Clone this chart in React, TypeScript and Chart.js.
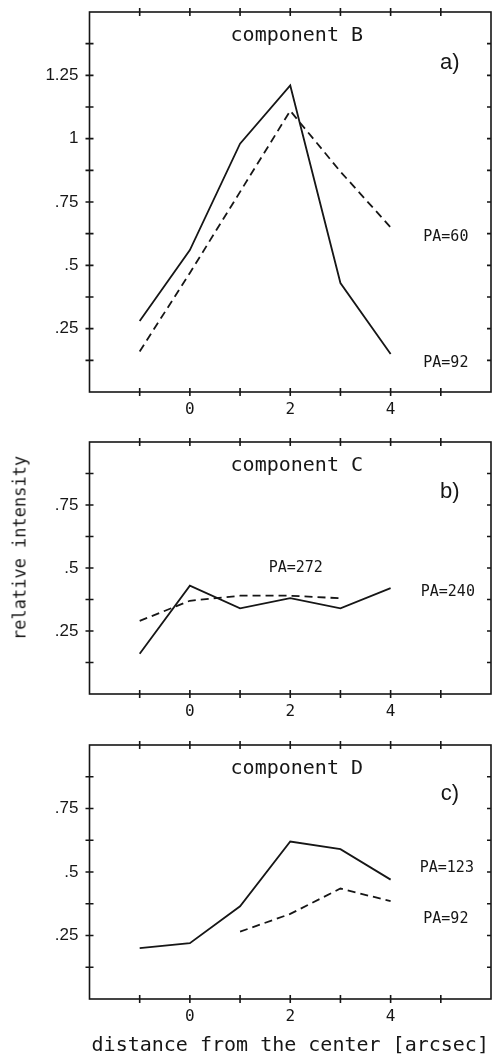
import React, { useEffect, useRef } from "react";
import { Chart, registerables } from "chart.js";

Chart.register(...registerables);

// ---------- data ----------
const xValues = [-1, 0, 1, 2, 3, 4];
const panelA_PA92 = [0.28, 0.56, 0.98, 1.21, 0.43, 0.15];
const panelA_PA60 = [0.16, 0.47, 0.79, 1.11, 0.87, 0.65];

const panelB_PA240 = [0.16, 0.43, 0.34, 0.38, 0.34, 0.42];
const panelB_xDashed = [-1, 0, 1, 2, 3];
const panelB_PA272 = [0.29, 0.37, 0.39, 0.39, 0.38];

const panelC_PA123 = [0.2, 0.22, 0.365, 0.62, 0.59, 0.47];
const panelC_xDashed = [1, 2, 3, 4];
const panelC_PA92 = [0.265, 0.335, 0.435, 0.385];

const xTickLabels = ["0", "2", "4"];
const yTickLabelsA = [".25", ".5", ".75", "1", "1.25"];
const yTickLabelsBC = [".25", ".5", ".75"];

const INK = "#161616";
const MONO = "'DejaVu Sans Mono', monospace";
const SANS = "'Liberation Sans', Arial, sans-serif";

type Note = { text: string; x: number; y: number; size: number; family: string };

const pts = (xs: number[], ys: number[]) => xs.map((x, i) => ({ x, y: ys[i] }));

function fmtY(v: number) {
  const s = String(Math.round(v * 1000) / 1000);
  return s.startsWith("0.") ? s.slice(1) : s;
}

const framePlugin = {
  id: "frame",
  afterDraw(chart: any) {
    const { ctx, chartArea: a, scales } = chart;
    const L = 4;
    ctx.save();
    ctx.strokeStyle = INK;
    ctx.lineWidth = 1.6;
    ctx.strokeRect(a.left, a.top, a.right - a.left, a.bottom - a.top);
    ctx.beginPath();
    const xs = scales.x;
    for (const t of xs.ticks) {
      if (t.value <= xs.min || t.value >= xs.max) continue;
      const px = xs.getPixelForValue(t.value);
      ctx.moveTo(px, a.bottom - L);
      ctx.lineTo(px, a.bottom + L);
      ctx.moveTo(px, a.top - L);
      ctx.lineTo(px, a.top + L);
    }
    const ys = scales.y;
    for (const t of ys.ticks) {
      if (t.value <= ys.min || t.value >= ys.max) continue;
      const py = ys.getPixelForValue(t.value);
      ctx.moveTo(a.left - L, py);
      ctx.lineTo(a.left + L, py);
      ctx.moveTo(a.right - L, py);
      ctx.lineTo(a.right, py);
    }
    ctx.stroke();
    ctx.restore();
  },
};

function makeNotesPlugin(notes: Note[]) {
  return {
    id: "notes",
    afterDraw(chart: any) {
      const { ctx, scales } = chart;
      ctx.save();
      ctx.fillStyle = INK;
      ctx.textAlign = "center";
      ctx.textBaseline = "middle";
      for (const n of notes) {
        ctx.font = `${n.size}px ${n.family}`;
        ctx.fillText(n.text, scales.x.getPixelForValue(n.x), scales.y.getPixelForValue(n.y));
      }
      ctx.restore();
    },
  };
}

type PanelProps = {
  top: number;
  height: number;
  padTop: number;
  axisH: number;
  yMax: number;
  yLabels: string[];
  datasets: any[];
  notes: Note[];
  xTitle?: string;
};

function Panel({ top, height, padTop, axisH, yMax, yLabels, datasets, notes, xTitle }: PanelProps) {
  const ref = useRef<HTMLCanvasElement>(null);
  useEffect(() => {
    if (!ref.current) return;
    const chart = new Chart(ref.current, {
      type: "line",
      data: { datasets },
      options: {
        animation: false,
        responsive: false,
        events: [],
        layout: { padding: { top: padTop, right: 3, left: 0, bottom: 0 } },
        plugins: { legend: { display: false }, tooltip: { enabled: false } },
        elements: { point: { radius: 0 }, line: { tension: 0 } },
        scales: {
          x: {
            type: "linear",
            min: -2,
            max: 6,
            grid: { display: false, drawTicks: false },
            border: { display: false },
            afterFit: (s: any) => {
              s.height = axisH;
              s.paddingLeft = 0;
              s.paddingRight = 0;
            },
            ticks: {
              stepSize: 1,
              autoSkip: false,
              maxRotation: 0,
              padding: 8,
              color: INK,
              font: { family: MONO, size: 16 },
              callback: (v: any) => (xTickLabels.includes(String(v)) ? String(v) : ""),
            },
            title: xTitle
              ? {
                  display: true,
                  text: xTitle,
                  color: INK,
                  font: { family: MONO, size: 20 },
                  padding: { top: 0, bottom: 0 },
                }
              : { display: false },
          },
          y: {
            type: "linear",
            min: 0,
            max: yMax,
            grid: { display: false, drawTicks: false },
            border: { display: false },
            afterFit: (s: any) => {
              s.width = 89.5;
              s.paddingTop = 0;
              s.paddingBottom = 0;
            },
            ticks: {
              stepSize: 0.125,
              autoSkip: false,
              padding: 11,
              color: INK,
              font: { family: SANS, size: 17 },
              callback: (v: any) => {
                const s = fmtY(Number(v));
                return yLabels.includes(s) ? s : "";
              },
            },
          },
        },
      },
      plugins: [framePlugin, makeNotesPlugin(notes)],
    });
    return () => chart.destroy();
  }, []);
  return (
    <canvas
      ref={ref}
      width={494}
      height={height}
      style={{ position: "absolute", left: 0, top, width: 494, height }}
    />
  );
}

const solid = (data: any[]) => ({
  data,
  borderColor: INK,
  borderWidth: 1.8,
  fill: false,
  pointRadius: 0,
});
const dashed = (data: any[]) => ({
  data,
  borderColor: INK,
  borderWidth: 1.8,
  borderDash: [8, 5],
  fill: false,
  pointRadius: 0,
});

export default function App() {
  return (
    <div
      style={{
        position: "absolute",
        left: 0,
        top: 0,
        width: 494,
        height: 1058,
        background: "#fff",
        overflow: "hidden",
      }}
    >
      <Panel
        top={0}
        height={425}
        padTop={12}
        axisH={33}
        yMax={1.5}
        yLabels={yTickLabelsA}
        datasets={[solid(pts(xValues, panelA_PA92)), dashed(pts(xValues, panelA_PA60))]}
        notes={[
          { text: "component B", x: 2.13, y: 1.405, size: 20, family: MONO },
          { text: "a)", x: 5.18, y: 1.3, size: 22, family: SANS },
          { text: "PA=60", x: 5.1, y: 0.61, size: 15, family: MONO },
          { text: "PA=92", x: 5.1, y: 0.115, size: 15, family: MONO },
        ]}
      />
      <Panel
        top={425}
        height={300}
        padTop={17}
        axisH={31}
        yMax={1}
        yLabels={yTickLabelsBC}
        datasets={[solid(pts(xValues, panelB_PA240)), dashed(pts(panelB_xDashed, panelB_PA272))]}
        notes={[
          { text: "component C", x: 2.13, y: 0.904, size: 20, family: MONO },
          { text: "b)", x: 5.18, y: 0.8, size: 22, family: SANS },
          { text: "PA=272", x: 2.11, y: 0.5, size: 15, family: MONO },
          { text: "PA=240", x: 5.14, y: 0.405, size: 15, family: MONO },
        ]}
      />
      <Panel
        top={725}
        height={333}
        padTop={20}
        axisH={59}
        yMax={1}
        yLabels={yTickLabelsBC}
        datasets={[solid(pts(xValues, panelC_PA123)), dashed(pts(panelC_xDashed, panelC_PA92))]}
        notes={[
          { text: "component D", x: 2.13, y: 0.907, size: 20, family: MONO },
          { text: "c)", x: 5.18, y: 0.808, size: 22, family: SANS },
          { text: "PA=123", x: 5.12, y: 0.517, size: 15, family: MONO },
          { text: "PA=92", x: 5.1, y: 0.316, size: 15, family: MONO },
        ]}
        xTitle="distance from the center [arcsec]"
      />
      <div
        style={{
          position: "absolute",
          left: 20,
          top: 548,
          transform: "translate(-50%, -50%) rotate(-90deg)",
          fontFamily: MONO,
          fontSize: 17,
          color: INK,
          whiteSpace: "nowrap",
          lineHeight: 1,
        }}
      >
        relative intensity
      </div>
    </div>
  );
}
